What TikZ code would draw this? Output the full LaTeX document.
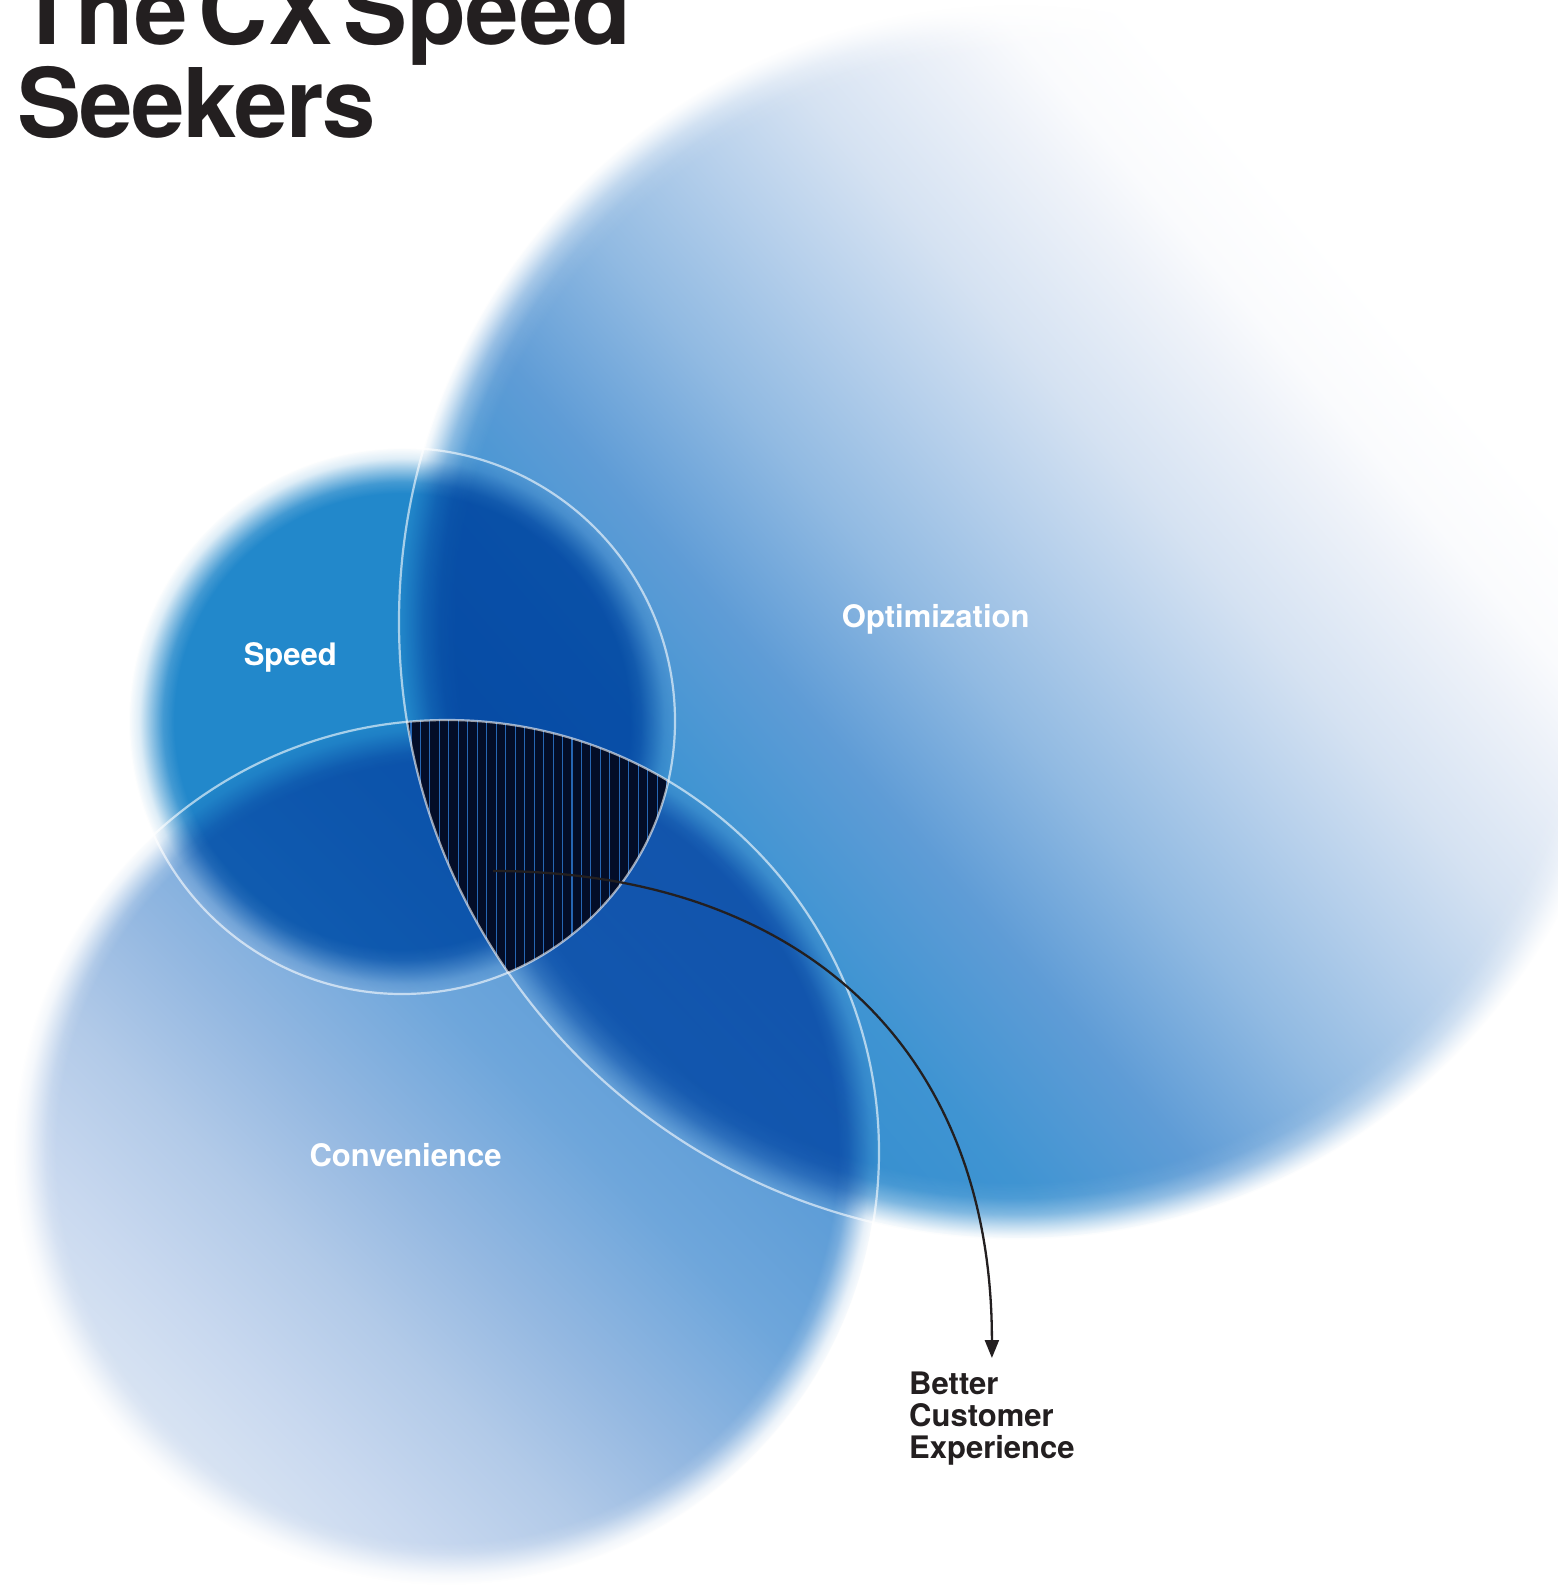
\documentclass[tikz,border=0pt]{standalone}
\usepackage{fontspec}
\setmainfont{TeX Gyre Heros}
\usetikzlibrary{fadings,arrows.meta}

\definecolor{speedblue}{RGB}{34,136,203}
\definecolor{inkc}{RGB}{35,31,32}
\definecolor{tripfill}{RGB}{3,13,40}
\definecolor{hatchc}{RGB}{38,102,180}
\definecolor{optA}{RGB}{45,138,205}
\definecolor{optB}{RGB}{63,148,210}
\definecolor{optC}{RGB}{95,156,214}
\definecolor{optD}{RGB}{145,186,226}
\definecolor{optE}{RGB}{181,207,235}
\definecolor{optF}{RGB}{213,226,242}
\definecolor{optG}{RGB}{238,242,249}
\definecolor{optH}{RGB}{250,251,253}
\definecolor{convA}{RGB}{221,231,244}
\definecolor{convB}{RGB}{200,216,239}
\definecolor{convC}{RGB}{178,202,232}
\definecolor{convD}{RGB}{148,184,225}
\definecolor{convE}{RGB}{110,166,219}
\definecolor{convF}{RGB}{88,154,214}
\definecolor{convG}{RGB}{72,146,210}

\pgfdeclareverticalshading{optgrad}{100bp}{%
  color(0bp)=(optA); color(25bp)=(optA); color(35.2bp)=(optB);
  color(41.25bp)=(optC); color(47.3bp)=(optD); color(52.6bp)=(optE);
  color(57.5bp)=(optF); color(63.1bp)=(optG); color(65.6bp)=(optH);
  color(69.6bp)=(white); color(100bp)=(white)}
\pgfdeclareverticalshading{convgrad}{100bp}{%
  color(0bp)=(convA); color(25bp)=(convA); color(33bp)=(convB);
  color(40bp)=(convC); color(47bp)=(convD); color(56bp)=(convE);
  color(66bp)=(convF); color(75bp)=(convG); color(100bp)=(convG)}

\pgfdeclareradialshading{fzSsh}{\pgfpointorigin}{color(0bp)=(white);
  color(20.75bp)=(white); color(21.8bp)=(white!85!black);
  color(22.9bp)=(white!50!black); color(23.95bp)=(white!15!black);
  color(25bp)=(black); color(50bp)=(black)}
\pgfdeclarefading{fuzzS}{\pgfuseshading{fzSsh}}
\pgfdeclareradialshading{fzCsh}{\pgfpointorigin}{color(0bp)=(white);
  color(22.5bp)=(white); color(23.1bp)=(white!85!black);
  color(23.75bp)=(white!50!black); color(24.4bp)=(white!15!black);
  color(25bp)=(black); color(50bp)=(black)}
\pgfdeclarefading{fuzzC}{\pgfuseshading{fzCsh}}
\pgfdeclareradialshading{fzOsh}{\pgfpointorigin}{color(0bp)=(white);
  color(22.6bp)=(white); color(23.25bp)=(white!92!black);
  color(23.9bp)=(white!65!black); color(24.4bp)=(white!30!black);
  color(24.75bp)=(white!8!black); color(25bp)=(black); color(50bp)=(black)}
\pgfdeclarefading{fuzzO}{\pgfuseshading{fzOsh}}

\begin{document}
\begin{tikzpicture}[x=1pt,y=-1pt,
  lbl/.style={text=white, font=\fontsize{31}{32}\selectfont\bfseries,
    inner sep=0pt, anchor=base west},
  rim/.style={draw=white, draw opacity=0.6, line width=2.2pt},
  hatchline/.style={draw=hatchc, line width=1.1pt},
  pointer/.style={draw=inkc, line width=2.3pt,
    -{Triangle[length=18pt,width=14pt]}},
  ]
\fill[white] (0,0) rectangle (1558,1585);
\useasboundingbox (0,0) rectangle (1558,1585);
\coordinate (O) at (1016,622);
\coordinate (C) at (447,1152);
\coordinate (S) at (402,721);

\begin{scope}[blend mode=multiply]
  \shade[shading=optgrad, shading angle=-49.4, path fading=fuzzO] (O) circle[radius=617pt];
  \shade[shading=convgrad, shading angle=-45, path fading=fuzzC] (C) circle[radius=432pt];
  \fill[speedblue, path fading=fuzzS] (S) circle[radius=273pt];
\end{scope}

\begin{scope}
  \clip (S) circle[radius=273pt];
  \clip (C) circle[radius=432pt];
  \clip (O) circle[radius=617pt];
  \fill[tripfill] (380,690) rectangle (700,1000);
  \foreach \k in {0,...,28}{
    \draw[hatchline] ({411+9.47*\k},690) -- ({411+9.47*\k},1000);}
\end{scope}

\draw[rim] (O) circle[radius=617pt];
\draw[rim] (C) circle[radius=432pt];
\draw[rim] (S) circle[radius=273pt];

\node[lbl] (speedlbl) at (243.6,665) {Speed};
\node[lbl] (optlbl) at (841.7,627) {Optimization};
\node[lbl] (convlbl) at (309.4,1166.6) {Convenience};

\node[font=\fontsize{31}{32}\selectfont\bfseries, text=inkc, align=left,
  inner sep=0pt, anchor=north west] (bcx) at (909,1371.7)
  {Better\\Customer\\Experience};

\coordinate (arrowstart) at (493,871);
\draw[pointer, shorten >=13.7pt] (arrowstart) .. controls +(300,0) and +(0,-330) .. (bcx.north);

\node[font=\fontsize{96}{91}\selectfont\bfseries, text=inkc,
  align=left, inner sep=0pt, anchor=north west] (title) at (17,-27)
  {\spaceskip=11pt\relax The CX Speed\\{\addfontfeatures{LetterSpace=-1.5}Seekers}};
\end{tikzpicture}
\end{document}
